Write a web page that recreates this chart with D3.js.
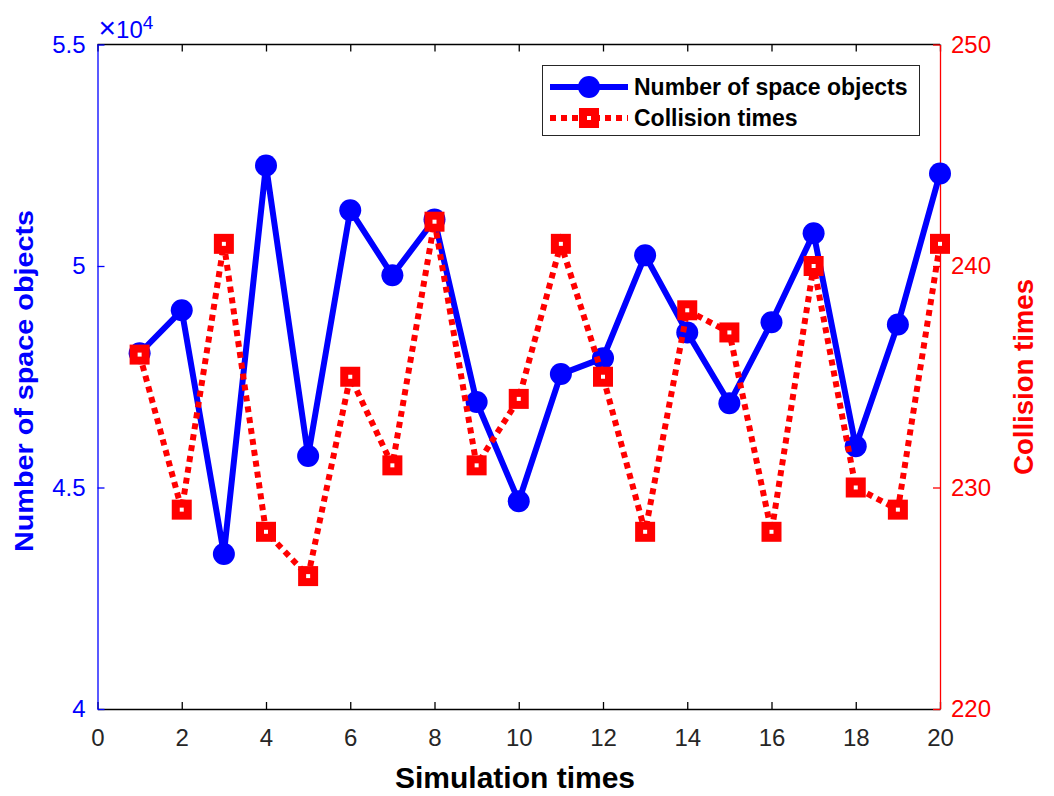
<!DOCTYPE html>
<html>
<head>
<meta charset="utf-8">
<script src="https://cdn.jsdelivr.net/npm/d3@7"></script>
<style>
  body { margin: 0; background: #fff; }
  text { font-family: "Liberation Sans", Arial, sans-serif; }
</style>
</head>
<body>
<div id="chart"></div>
<script>
// Data
const simRuns = d3.range(1, 21)
const spaceObjects = [4.803, 4.90, 4.35, 5.227, 4.571, 5.126, 4.979, 5.105, 4.693, 4.469,
                      4.756, 4.792, 5.024, 4.85, 4.69, 4.873, 5.074, 4.593, 4.868, 5.209]
const collisions = [236, 229, 241, 228, 226, 235, 231, 242, 231, 234,
                    241, 235, 228, 238, 237, 228, 240, 230, 229, 241]
const xTicks = d3.range(0, 21, 2)
const leftTicks = [4, 4.5, 5, 5.5]
const rightTicks = [220, 230, 240, 250]

const width = 1054
const height = 796
const margin = { left: 97.5, right: 114, top: 44.5, bottom: 87 }

const svg = d3.select("#chart").append("svg")
  .attr("width", width)
  .attr("height", height)

const x = d3.scaleLinear().domain([0, 20]).range([margin.left, width - margin.right])
const yL = d3.scaleLinear().domain([4, 5.5]).range([height - margin.bottom, margin.top])
const yR = d3.scaleLinear().domain([220, 250]).range([height - margin.bottom, margin.top])

const blue = "#0000ff"
const red = "#ff0000"
const tickFont = 24

// top box line
svg.append("line")
  .attr("x1", x(0)).attr("x2", x(20))
  .attr("y1", yL(5.5)).attr("y2", yL(5.5))
  .attr("stroke", "#000").attr("stroke-width", 1.3)

// bottom axis
const xAxis = svg.append("g")
  .attr("transform", "translate(0," + yL(4) + ")")
  .call(d3.axisBottom(x).tickValues(xTicks).tickSize(-7).tickPadding(20).tickSizeOuter(0))
xAxis.select(".domain").attr("stroke", "#000").attr("stroke-width", 1.3)
xAxis.selectAll(".tick line").attr("stroke-width", 1.3)
xAxis.selectAll("text").attr("font-size", tickFont).attr("fill", "#262626")

// top ticks
svg.append("g")
  .attr("transform", "translate(0," + yL(5.5) + ")")
  .call(d3.axisTop(x).tickValues(xTicks).tickSize(-7).tickSizeOuter(0).tickFormat(""))
  .call(g => g.select(".domain").remove())
  .selectAll(".tick line").attr("stroke-width", 1.3)

// left axis
const leftAxis = svg.append("g")
  .attr("transform", "translate(" + x(0) + ",0)")
  .call(d3.axisLeft(yL).tickValues(leftTicks).tickSize(-7).tickPadding(12).tickSizeOuter(0)
    .tickFormat(d => Number.isInteger(d) ? String(d) : d3.format(".1f")(d)))
leftAxis.select(".domain").attr("stroke", blue).attr("stroke-width", 1.3)
leftAxis.selectAll(".tick line").attr("stroke", blue).attr("stroke-width", 1.3)
leftAxis.selectAll("text").attr("font-size", tickFont).attr("fill", blue)

// right axis
const rightAxis = svg.append("g")
  .attr("transform", "translate(" + x(20) + ",0)")
  .call(d3.axisRight(yR).tickValues(rightTicks).tickSize(-7).tickPadding(11).tickSizeOuter(0))
rightAxis.select(".domain").attr("stroke", red).attr("stroke-width", 1.3)
rightAxis.selectAll(".tick line").attr("stroke", red).attr("stroke-width", 1.3)
rightAxis.selectAll("text").attr("font-size", tickFont).attr("fill", red)

// exponent label
const expo = svg.append("text")
  .attr("x", x(0) + 1).attr("y", 38)
  .attr("font-size", tickFont).attr("fill", blue)
expo.append("tspan").attr("font-size", 30).attr("font-weight", 300).text("\u00d7")
expo.append("tspan").text("10")
expo.append("tspan").attr("dy", -9).attr("font-size", 19).text("4")

// axis titles
svg.append("text")
  .attr("x", 515).attr("y", 788)
  .attr("text-anchor", "middle")
  .attr("font-size", 30).attr("font-weight", "bold").attr("fill", "#000")
  .text("Simulation times")

svg.append("text")
  .attr("transform", "translate(33,381) rotate(-90)")
  .attr("text-anchor", "middle")
  .attr("font-size", 26).attr("font-weight", "bold").attr("fill", blue)
  .attr("textLength", 342).attr("lengthAdjust", "spacingAndGlyphs")
  .text("Number of space objects")

svg.append("text")
  .attr("transform", "translate(1033,377) rotate(-90)")
  .attr("text-anchor", "middle")
  .attr("font-size", 28).attr("font-weight", "bold").attr("fill", red)
  .attr("textLength", 196).attr("lengthAdjust", "spacingAndGlyphs")
  .text("Collision times")

// blue solid series
const blueLine = d3.line()
  .x((d, i) => x(simRuns[i]))
  .y(d => yL(d))

svg.append("path")
  .datum(spaceObjects)
  .attr("d", blueLine)
  .attr("fill", "none")
  .attr("stroke", blue)
  .attr("stroke-width", 6)
  .attr("stroke-linejoin", "round")

svg.selectAll(".dot")
  .data(spaceObjects)
  .enter().append("circle")
  .attr("class", "dot")
  .attr("cx", (d, i) => x(simRuns[i]))
  .attr("cy", d => yL(d))
  .attr("r", 11)
  .attr("fill", blue)

// red dotted series, drawn on top like the right axis in the original
const redLine = d3.line()
  .x((d, i) => x(simRuns[i]))
  .y(d => yR(d))

svg.append("path")
  .datum(collisions)
  .attr("d", redLine)
  .attr("fill", "none")
  .attr("stroke", red)
  .attr("stroke-width", 6)
  .attr("stroke-dasharray", "6,5")

svg.selectAll(".sq")
  .data(collisions)
  .enter().append("rect")
  .attr("class", "sq")
  .attr("x", (d, i) => x(simRuns[i]) - 6)
  .attr("y", d => yR(d) - 6)
  .attr("width", 12).attr("height", 12)
  .attr("fill", "#fff")
  .attr("stroke", red)
  .attr("stroke-width", 8)

// legend
const legend = svg.append("g")
legend.append("rect")
  .attr("x", 542.5).attr("y", 65.5)
  .attr("width", 377).attr("height", 70)
  .attr("fill", "#fff").attr("stroke", "#262626").attr("stroke-width", 1)

legend.append("line")
  .attr("x1", 550).attr("x2", 628).attr("y1", 87).attr("y2", 87)
  .attr("stroke", blue).attr("stroke-width", 6)
legend.append("circle")
  .attr("cx", 589).attr("cy", 87).attr("r", 11).attr("fill", blue)
legend.append("text")
  .attr("x", 634).attr("y", 95)
  .attr("font-size", 23).attr("font-weight", "bold").attr("fill", "#000")
  .text("Number of space objects")

legend.append("line")
  .attr("x1", 550).attr("x2", 628).attr("y1", 118).attr("y2", 118)
  .attr("stroke", red).attr("stroke-width", 6).attr("stroke-dasharray", "6,5")
legend.append("rect")
  .attr("x", 583).attr("y", 112).attr("width", 12).attr("height", 12)
  .attr("fill", "#fff").attr("stroke", red).attr("stroke-width", 8)
legend.append("text")
  .attr("x", 634).attr("y", 126)
  .attr("font-size", 23).attr("font-weight", "bold").attr("fill", "#000")
  .text("Collision times")
</script>
</body>
</html>
